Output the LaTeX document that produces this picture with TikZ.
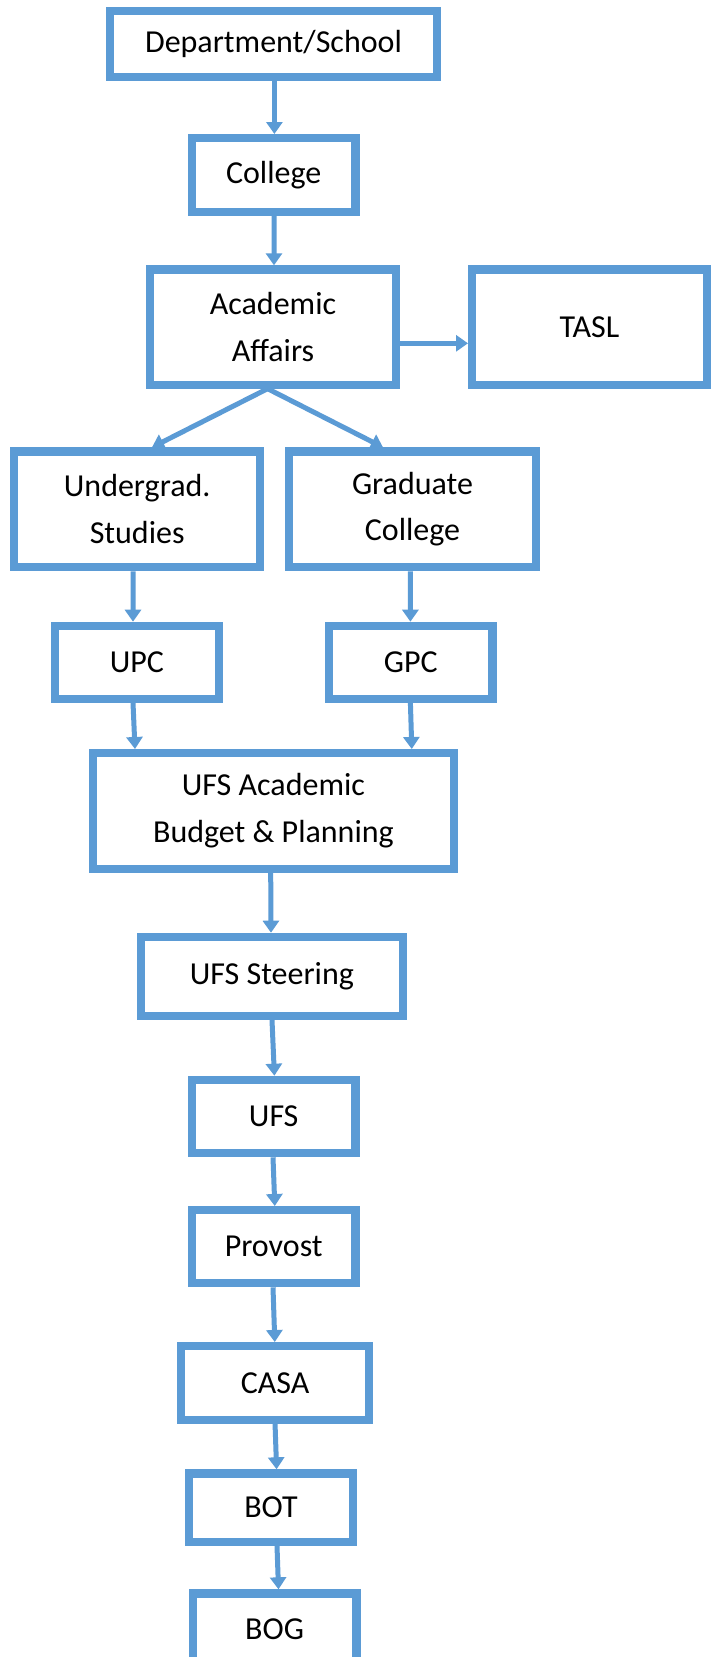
\documentclass[tikz,border=0pt]{standalone}
\usepackage{fontspec}
\setmainfont{Carlito}
\usetikzlibrary{arrows.meta}
\definecolor{boxblue}{HTML}{5B9BD5}
\tikzset{
  box/.style={draw=boxblue, line width=8.2bp, fill=white, rectangle, inner sep=0pt,
    align=center, font=\fontsize{32bp}{46.6bp}\selectfont, text=black},
  arr/.style={draw=boxblue, line width=5bp, -{Triangle[length=12bp,width=16bp]}}
}
\begin{document}
\begin{tikzpicture}[x=1bp,y=-1bp]
\useasboundingbox[fill=white] (0,0) rectangle (711,1657);
\node[box, minimum width=327.4bp, minimum height=65.8bp] (dept) at (273.5,44.3) {Department/School};
\node[box, minimum width=163.6bp, minimum height=73.5bp] (college) at (273.7,174.85) {College};
\node[box, minimum width=245.8bp, minimum height=115.2bp] (aa) at (273,327) {Academic\\Affairs};
\node[box, minimum width=234.8bp, minimum height=115.2bp] (tasl) at (589.5,327) {TASL};
\node[box, minimum width=246.2bp, minimum height=115.8bp] (ug) at (137.2,509.3) {Undergrad.\\Studies};
\node[box, minimum width=246.8bp, minimum height=115.8bp] (gr) at (412.5,509.3) {Graduate\\College};
\node[box, minimum width=164bp, minimum height=72.8bp] (upc) at (136.9,662.2) {UPC};
\node[box, minimum width=163.4bp, minimum height=72.8bp] (gpc) at (410.8,662.2) {GPC};
\node[box, minimum width=360.9bp, minimum height=115.5bp] (ufsab) at (273.45,810.85) {UFS Academic\\Budget \& Planning};
\node[box, minimum width=261.6bp, minimum height=79.1bp] (steer) at (271.9,976.35) {UFS Steering};
\node[box, minimum width=163.6bp, minimum height=73.4bp] (ufs) at (273.7,1116.5) {UFS};
\node[box, minimum width=163.6bp, minimum height=73.1bp] (prov) at (273.7,1246.65) {Provost};
\node[box, minimum width=188.1bp, minimum height=73.8bp] (casa) at (275.05,1383) {CASA};
\node[box, minimum width=163.8bp, minimum height=68.2bp] (bot) at (271,1507.5) {BOT};
\node[box, minimum width=163.6bp, minimum height=72.5bp] (bog) at (274.6,1629.65) {BOG};

\draw[arr] ([xshift=0.9bp]dept.south) -- ([xshift=0.7bp]college.north);
\draw[arr] ([xshift=0.3bp]college.south) -- ([xshift=1bp]aa.north);
\draw[arr] ([yshift=-16.3bp]aa.east) -- ([yshift=-16.3bp]tasl.west);
\draw[arr] ([xshift=-5.4bp]aa.south) -- ([xshift=14.8bp]ug.north);
\draw[arr] ([xshift=-5.4bp]aa.south) -- ([xshift=-29.5bp]gr.north);
\draw[arr] ([xshift=-4.2bp]ug.south) -- ([xshift=-3.9bp]upc.north);
\draw[arr] ([xshift=-2.1bp]gr.south) -- ([xshift=-0.4bp]gpc.north);
\draw[arr] ([xshift=-3.9bp]upc.south) -- ([xshift=-138.45bp]ufsab.north);
\draw[arr] ([xshift=-0.4bp]gpc.south) -- ([xshift=138.35bp]ufsab.north);
\draw[arr] ([xshift=-2.75bp]ufsab.south) -- ([xshift=-0.9bp]steer.north);
\draw[arr] ([xshift=0.1bp]steer.south) -- ([xshift=0.7bp]ufs.north);
\draw[arr] ([xshift=-0.7bp]ufs.south) -- ([xshift=1.1bp]prov.north);
\draw[arr] ([xshift=-0.7bp]prov.south) -- ([xshift=-0.25bp]casa.north);
\draw[arr] (casa.south) -- ([xshift=5.6bp]bot.north);
\draw[arr] ([xshift=6bp]bot.south) -- ([xshift=3.9bp]bog.north);
\end{tikzpicture}
\end{document}
